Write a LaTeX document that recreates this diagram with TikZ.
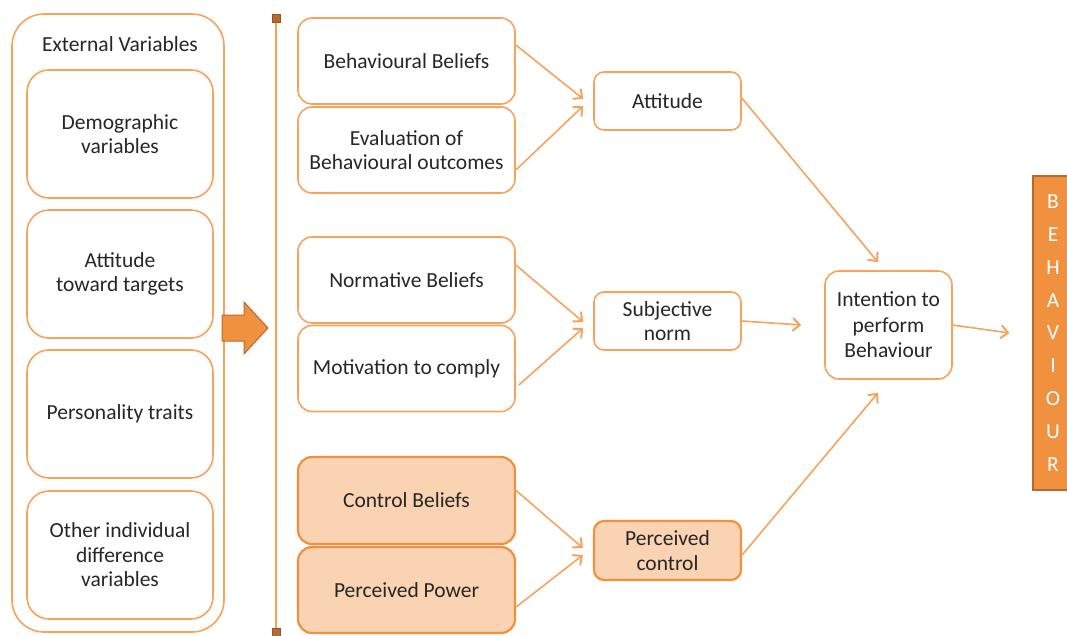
\documentclass[tikz,border=0pt]{standalone}
\usepackage{fontspec}
\setmainfont{Carlito}
\usetikzlibrary{arrows.meta}

\definecolor{boxline}{HTML}{F7A35C}
\definecolor{boxfill}{HTML}{FAD3B2}
\definecolor{darkline}{HTML}{F0913F}
\definecolor{behfill}{HTML}{F0913F}
\definecolor{behline}{HTML}{B96A30}
\definecolor{txt}{HTML}{262626}

\tikzset{
  rbox/.style={draw=boxline, line width=1.6pt, rounded corners=14pt, align=center,
    text=txt, font=\fontsize{21.5}{24.5}\selectfont, inner sep=2pt},
  hbox/.style={rbox, fill=boxfill, draw=darkline, line width=2.2pt},
  link/.style={draw=boxline, line width=1.6pt, -{Straight Barb[length=7pt,width=13pt,line width=2pt]}},
}

\begin{document}
\begin{tikzpicture}[x=1pt,y=-1pt]
\useasboundingbox (0,0) rectangle (1067,635);
% external variables
\node[rbox, rounded corners=32pt, minimum width=212pt, minimum height=618pt] (ext) at (118,323) {};
\node[text=txt, font=\fontsize{21.5}{24.5}\selectfont] (exttitle) at (120,44) {External Variables};
\node[rbox, rounded corners=22pt, minimum width=186pt, minimum height=128pt] (demo) at (120,134) {Demographic\\variables};
\node[rbox, rounded corners=22pt, minimum width=186pt, minimum height=128pt] (targ) at (120,274) {Attitude\\toward targets};
\node[rbox, rounded corners=22pt, minimum width=186pt, minimum height=128pt] (pers) at (120,414) {Personality traits};
\node[rbox, rounded corners=22pt, minimum width=186pt, minimum height=128pt] (other) at (120,555) {Other individual\\difference\\variables};

% big arrow and divider
\filldraw[fill=behfill, draw=behline, line width=1pt]
  (222,315) -- (244,315) -- (244,302) -- (268,328) -- (244,354) -- (244,341) -- (222,341) -- cycle;
\draw[boxline, line width=1.5pt] (276,18) -- (276,632);
\filldraw[fill=behline, draw=behline!80!black, line width=0.5pt] (272,14) rectangle (280,22);
\filldraw[fill=behline, draw=behline!80!black, line width=0.5pt] (272,628) rectangle (280,636);

% beliefs
\node[rbox, minimum width=217pt, minimum height=86pt] (bb) at (406.5,61) {Behavioural Beliefs};
\node[rbox, minimum width=217pt, minimum height=86pt] (ev) at (406.5,150) {Evaluation of\\Behavioural outcomes};
\node[rbox, minimum width=217pt, minimum height=86pt] (nb) at (406.5,280) {Normative Beliefs};
\node[rbox, minimum width=217pt, minimum height=86pt] (mc) at (406.5,368.5) {Motivation to comply};
\node[hbox, minimum width=217pt, minimum height=87pt] (cb) at (406.5,500.5) {Control Beliefs};
\node[hbox, minimum width=217pt, minimum height=86pt] (pp) at (406.5,590) {Perceived Power};

% middle column
\node[rbox, rounded corners=10pt, minimum width=147pt, minimum height=58pt] (att) at (667.5,101) {Attitude};
\node[rbox, rounded corners=10pt, minimum width=147pt, minimum height=58pt] (sn) at (667.5,321) {Subjective\\norm};
\node[hbox, rounded corners=10pt, minimum width=147pt, minimum height=59pt] (pc) at (667.5,550.5) {Perceived\\control};

\node[rbox, rounded corners=14pt, minimum width=127pt, minimum height=108pt,
  font=\fontsize{21.5}{25.5}\selectfont] (int) at (888.5,325) {Intention to\\perform\\Behaviour};

\node[draw=behline, fill=behfill, line width=1.2pt, minimum width=40pt, minimum height=314pt,
  text=white, align=center, font=\fontsize{21.5}{32.9}\selectfont] (beh) at (1053,333)
  {B\\E\\H\\A\\V\\I\\O\\U\\R};

% connectors
\draw[link] ([yshift=16pt]bb.east) -- ([xshift=-10pt,yshift=2pt]att.west);
\draw[link] ([yshift=-20pt]ev.east) -- ([xshift=-10pt,yshift=-5pt]att.west);
\draw[link] ([yshift=15pt]nb.east) -- ([xshift=-10pt,yshift=-1pt]sn.west);
\draw[link] ([xshift=3pt,yshift=-16.5pt]mc.east) -- ([xshift=-10pt,yshift=-7pt]sn.west);
\draw[link] ([yshift=10pt]cb.east) -- ([xshift=-10pt,yshift=2.5pt]pc.west);
\draw[link] ([yshift=-17pt]pp.east) -- ([xshift=-10pt,yshift=-4.5pt]pc.west);
\draw[link] ([yshift=3pt]att.east) -- ([xshift=-10.5pt,yshift=8pt]int.north);
\draw[link] (sn.east) -- ([xshift=-23pt]int.west);
\draw[link] ([yshift=-4.5pt]pc.east) -- ([xshift=-10.5pt,yshift=-13pt]int.south);
\draw[link] (int.east) -- ([xshift=-23pt]beh.west);
\end{tikzpicture}
\end{document}
